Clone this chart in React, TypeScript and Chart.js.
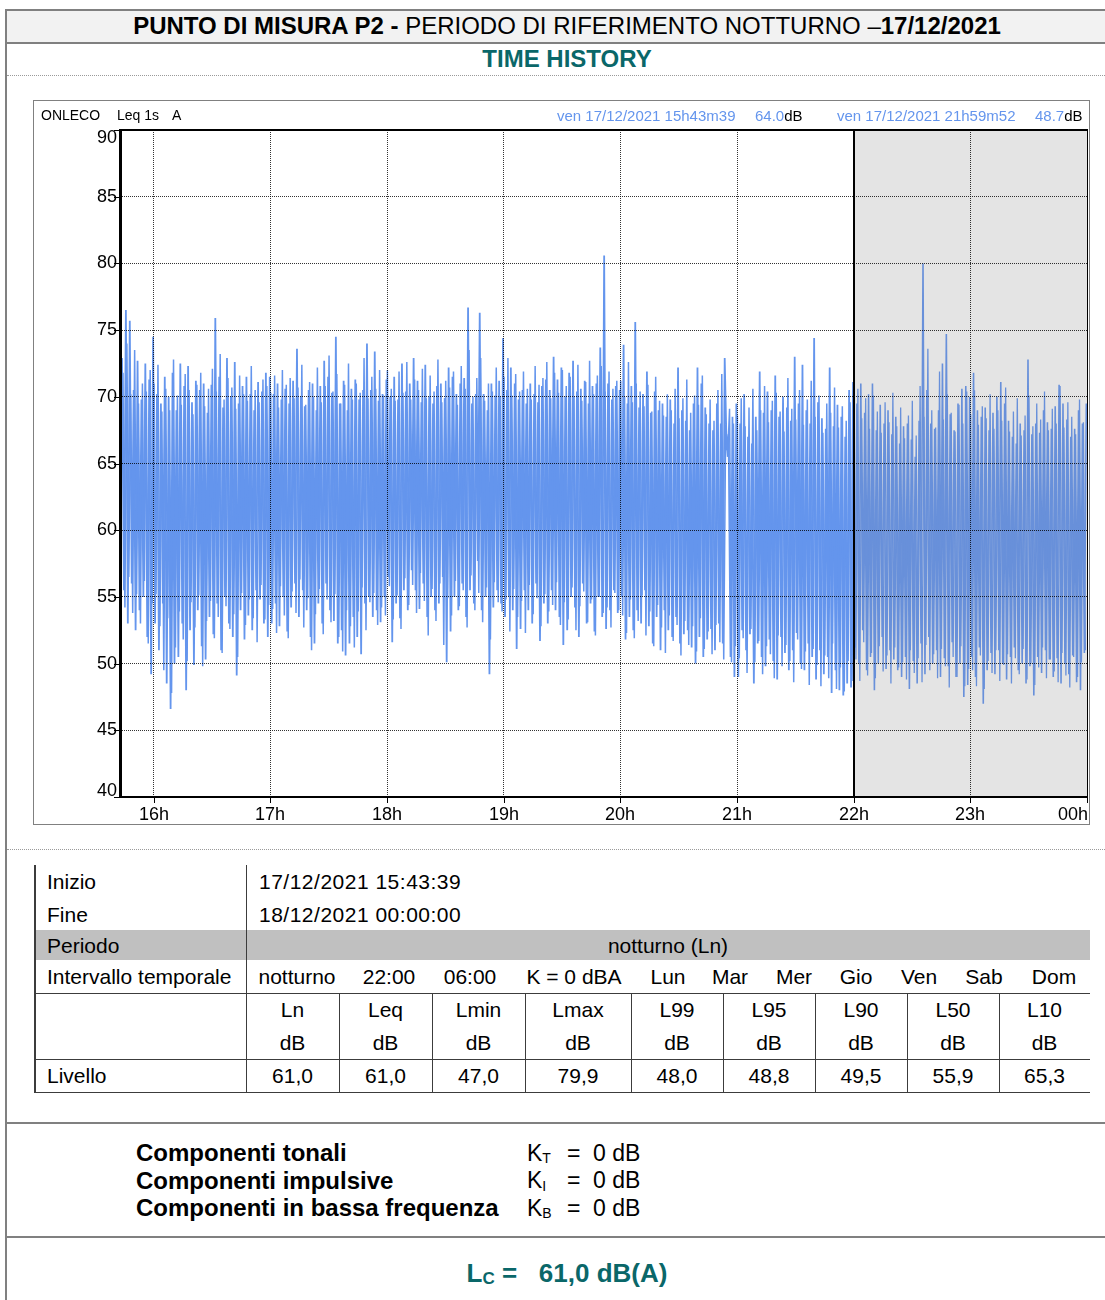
import React, { useEffect, useRef } from "react";
import { Chart, registerables } from "chart.js";

Chart.register(...registerables);

const FONT = '"Liberation Sans", Arial, Helvetica, sans-serif';

// ---- data -------------------------------------------------------------
// Start of measurement 17/12/2021 15:43:39. Leq 1s readings, reduced to one
// value per minute alternating the peak and the trough of that minute (series A),
// plus the same reduction taken on the half minute (series B).
const START_HOUR = 15 + 43 / 60 + 39 / 3600;
const STEP_HOURS = 1 / 60;
const HALF_STEP_HOURS = 0.5 / 60;
const NIGHT_START = 22;
const AXIS_END = 24;

const h15 = [72.9, 55.5, 76.5, 53.0, 75.7, 56.0, 70.5, 52.5, 72.7, 54.0, 69.8, 55.0, 72.5, 52.0, 71.3, 49.2];
const h16 = [74.5, 53.0, 70.2, 51.0, 69.5, 54.5, 71.5, 48.5, 70.0, 46.6, 71.8, 50.0, 69.0, 50.5, 72.5, 53.0, 70.8, 48.0, 72.3, 52.5, 69.6, 49.9, 71.2, 54.0, 70.5, 51.3, 71.0, 50.3, 68.8, 53.5, 70.9, 52.2, 75.9, 54.5, 71.5, 51.0, 69.2, 55.0, 72.9, 53.0, 70.0, 52.0, 72.6, 49.1, 69.5, 54.0, 70.8, 51.8, 71.5, 53.6, 70.2, 52.5, 69.0, 55.5, 71.1, 54.8, 70.4, 53.0, 71.8, 52.0];
const h17 = [71.5, 53.0, 70.2, 54.5, 71.0, 52.8, 69.8, 55.0, 70.6, 52.4, 69.5, 54.2, 71.2, 56.0, 73.6, 53.5, 70.0, 55.5, 69.3, 54.0, 70.5, 52.0, 71.0, 51.5, 69.0, 54.5, 70.8, 53.0, 72.7, 56.0, 71.5, 54.0, 70.3, 53.2, 74.5, 51.5, 69.5, 52.5, 71.2, 50.6, 69.0, 51.5, 70.6, 53.5, 71.3, 52.0, 69.8, 50.7, 70.5, 54.5, 74.0, 55.0, 70.5, 53.5, 73.4, 54.0, 69.7, 53.1, 70.2, 55.0];
const h18 = [71.3, 56.5, 70.0, 51.6, 71.5, 54.5, 69.8, 53.4, 72.5, 55.5, 70.4, 54.0, 71.0, 57.0, 72.9, 55.5, 71.2, 54.1, 69.6, 56.0, 72.4, 53.5, 70.0, 55.0, 69.5, 54.0, 70.8, 54.5, 71.0, 56.5, 69.9, 50.1, 72.2, 52.4, 71.5, 55.0, 70.2, 54.0, 71.0, 56.0, 71.4, 53.5, 76.7, 55.5, 69.5, 54.5, 70.2, 57.7, 76.3, 54.0, 70.2, 55.0, 69.0, 49.2, 71.0, 54.2, 70.1, 55.5, 71.2, 54.5];
const h19 = [74.4, 53.5, 70.5, 55.0, 72.2, 54.0, 71.0, 51.1, 69.8, 52.6, 70.5, 55.5, 69.5, 54.0, 71.0, 53.0, 70.2, 56.0, 69.6, 51.7, 70.8, 54.5, 71.3, 53.0, 70.5, 55.5, 73.0, 54.0, 71.3, 53.5, 72.2, 51.4, 70.0, 52.5, 71.8, 55.0, 72.7, 54.2, 70.4, 52.0, 70.6, 56.0, 71.2, 53.0, 69.5, 54.5, 70.8, 52.4, 71.0, 55.0, 73.7, 53.5, 80.6, 52.6, 71.0, 54.0, 69.8, 55.5, 70.8, 53.8];
const h20 = [70.5, 55.0, 73.9, 51.8, 69.5, 53.5, 70.8, 52.5, 75.6, 54.0, 69.2, 53.0, 70.2, 55.5, 71.9, 52.8, 68.8, 51.5, 70.4, 53.5, 69.0, 51.0, 69.5, 54.0, 68.5, 52.5, 69.8, 52.0, 68.0, 53.5, 72.2, 51.5, 69.0, 52.2, 68.2, 52.5, 67.5, 51.2, 69.5, 50.0, 72.2, 52.0, 71.0, 50.5, 69.2, 51.8, 68.0, 52.6, 67.5, 51.0, 69.5, 53.0, 68.0, 51.5, 72.9, 66.0, 67.2, 50.5, 68.5, 49.0];
const h21 = [69.5, 49.0, 68.0, 52.5, 70.2, 51.0, 67.0, 52.2, 66.5, 48.5, 68.5, 51.5, 71.9, 50.5, 68.8, 49.8, 70.4, 51.8, 69.0, 50.2, 71.6, 48.8, 68.5, 52.0, 70.0, 50.8, 69.2, 49.5, 68.2, 51.0, 73.0, 52.3, 69.5, 50.0, 72.4, 49.5, 69.0, 51.5, 68.0, 50.5, 74.4, 48.8, 69.6, 51.0, 68.4, 49.2, 67.6, 50.5, 72.2, 47.8, 67.8, 49.5, 69.4, 48.0, 68.5, 47.6, 67.0, 48.5, 70.5, 48.2];
const h22 = [71.1, 51.2, 69.5, 50.0, 71.0, 52.5, 68.8, 49.5, 70.2, 50.5, 71.0, 48.0, 67.5, 50.0, 69.4, 52.0, 68.0, 49.6, 69.0, 51.0, 67.2, 50.3, 68.5, 49.5, 66.5, 49.0, 67.8, 50.5, 68.0, 48.1, 66.8, 50.2, 65.5, 48.5, 68.2, 51.5, 80.0, 49.2, 70.5, 52.0, 68.0, 50.0, 67.6, 51.0, 69.0, 49.0, 72.5, 50.4, 74.7, 49.8, 68.7, 51.6, 67.5, 49.0, 69.5, 50.0, 70.6, 47.5, 70.8, 48.4];
const h23 = [70.0, 50.5, 71.8, 49.0, 69.0, 51.2, 68.5, 47.0, 69.2, 49.5, 67.5, 50.8, 68.8, 49.2, 70.0, 51.0, 71.1, 50.0, 69.5, 48.8, 68.2, 50.5, 67.0, 51.2, 66.5, 49.5, 68.0, 50.0, 67.5, 48.5, 72.8, 49.8, 67.2, 47.6, 68.0, 50.5, 67.3, 49.3, 69.0, 51.0, 68.1, 50.3, 67.6, 49.0, 69.3, 50.4, 70.9, 48.5, 69.5, 50.0, 68.3, 49.2, 67.0, 50.6, 67.6, 48.6, 69.0, 48.0, 68.0, 50.8, 69.5];

const b15 = [71.8, 54.2, 74.0, 56.5, 70.2, 53.8, 73.5, 55.2, 69.5, 53.0, 71.0, 56.2, 70.4, 51.5, 72.0, 54.5];
const b16 = [71.0, 55.2, 72.4, 52.8, 68.9, 49.5, 70.6, 53.4, 69.0, 47.8, 72.8, 51.2, 70.1, 53.9, 69.4, 51.8, 71.7, 50.2, 70.5, 54.6, 68.7, 52.7, 70.9, 55.1, 71.8, 49.8, 69.3, 53.2, 70.6, 54.7, 72.1, 51.9, 70.4, 53.5, 73.2, 50.8, 69.8, 54.3, 71.4, 52.6, 70.7, 53.7, 69.1, 50.5, 71.6, 55.3, 70.2, 52.9, 69.7, 54.8, 72.3, 53.4, 70.5, 51.6, 69.6, 55.9, 71.3, 53.3, 70.8, 54.4];
const b17 = [70.3, 54.1, 71.6, 52.3, 69.2, 55.8, 72.0, 53.6, 70.9, 51.9, 71.4, 55.4, 69.9, 53.8, 70.7, 56.3, 72.4, 52.7, 69.4, 54.9, 71.1, 51.0, 70.0, 53.7, 72.2, 55.6, 69.6, 52.2, 70.8, 54.8, 73.1, 53.1, 70.4, 55.2, 71.7, 52.0, 69.5, 50.9, 70.9, 54.0, 72.5, 52.8, 69.8, 51.2, 71.0, 53.9, 70.3, 55.7, 72.9, 52.5, 69.9, 54.6, 71.5, 55.3, 70.6, 52.9, 72.0, 54.2, 70.1, 53.6];
const b18 = [72.0, 55.8, 70.6, 53.3, 69.7, 55.1, 71.9, 52.6, 70.3, 56.4, 72.6, 54.4, 69.8, 55.9, 71.3, 53.8, 70.5, 56.8, 72.1, 54.7, 69.9, 52.1, 71.6, 55.6, 70.4, 53.2, 72.8, 56.0, 69.6, 51.4, 71.2, 54.9, 70.7, 53.6, 71.9, 56.2, 69.4, 54.3, 72.3, 55.5, 70.6, 52.7, 73.5, 56.6, 70.0, 54.0, 71.4, 55.3, 72.9, 53.1, 69.7, 55.7, 71.0, 51.8, 70.4, 56.1, 72.2, 54.6, 70.0, 53.9];
const b19 = [71.5, 54.8, 72.9, 52.4, 70.1, 55.6, 71.7, 53.5, 70.4, 54.7, 71.9, 52.3, 70.6, 55.9, 69.8, 53.7, 72.3, 54.9, 70.9, 52.8, 71.4, 55.2, 72.6, 53.9, 69.9, 54.4, 71.8, 56.1, 70.3, 52.9, 72.0, 54.6, 70.8, 53.3, 71.5, 55.7, 70.0, 52.5, 72.4, 54.3, 69.7, 55.4, 71.1, 53.1, 72.7, 54.8, 70.2, 52.1, 71.6, 55.0, 72.3, 53.8, 70.4, 54.2, 71.9, 52.7, 70.6, 55.3, 71.2, 54.0];
const b20 = [71.2, 53.6, 70.0, 52.3, 72.6, 54.8, 69.6, 51.9, 71.0, 53.2, 70.4, 55.1, 69.3, 52.1, 70.9, 53.9, 68.9, 51.3, 71.5, 54.4, 69.7, 52.7, 68.6, 50.8, 70.2, 53.6, 69.0, 51.7, 70.6, 52.9, 68.4, 50.6, 69.9, 53.2, 71.3, 51.4, 68.8, 52.8, 70.1, 50.9, 69.4, 53.4, 71.6, 51.1, 68.7, 52.4, 69.8, 50.7, 68.2, 52.9, 70.5, 51.6, 71.7, 50.3, 67.9, 65.5, 69.1, 50.1, 68.0, 51.3];
const b21 = [68.6, 50.4, 69.9, 51.9, 67.8, 49.3, 69.2, 52.6, 70.6, 50.1, 67.5, 51.7, 69.0, 49.2, 70.8, 51.3, 68.1, 50.7, 69.7, 48.9, 70.3, 52.1, 68.9, 49.8, 67.4, 51.4, 71.4, 50.2, 69.1, 48.6, 68.3, 51.8, 70.5, 49.6, 67.9, 50.9, 69.8, 48.4, 71.2, 51.1, 68.5, 49.9, 70.1, 48.3, 67.3, 50.6, 69.5, 48.9, 68.8, 51.5, 70.7, 48.1, 67.7, 49.7, 69.3, 47.9, 68.2, 50.2, 69.6, 48.7];
const b22 = [69.8, 50.3, 70.6, 48.7, 68.4, 51.6, 69.9, 49.1, 67.6, 50.8, 70.1, 48.9, 68.9, 51.3, 67.3, 49.4, 69.6, 50.6, 68.1, 48.5, 70.3, 51.2, 67.8, 49.7, 69.2, 50.1, 66.9, 48.8, 68.6, 51.0, 69.7, 49.3, 67.1, 50.4, 70.8, 48.6, 68.5, 51.4, 73.6, 49.5, 69.0, 50.7, 67.7, 48.9, 71.9, 51.1, 68.3, 49.8, 70.2, 48.2, 68.8, 50.5, 67.4, 49.0, 69.4, 51.3, 68.0, 48.3, 70.4, 49.6];
const b23 = [68.7, 49.5, 70.5, 48.3, 67.9, 50.6, 69.3, 48.1, 68.4, 50.2, 70.2, 49.3, 67.6, 51.0, 69.0, 48.7, 68.2, 49.9, 70.7, 50.7, 67.4, 48.5, 68.9, 50.4, 69.9, 49.2, 67.1, 51.1, 68.6, 48.8, 70.1, 50.0, 67.8, 48.4, 69.5, 49.7, 68.3, 51.2, 70.4, 48.9, 67.5, 50.3, 69.1, 49.4, 68.0, 48.6, 70.8, 50.8, 67.7, 49.1, 69.6, 48.2, 68.5, 50.5, 67.2, 49.0, 69.8, 50.1, 68.1, 51.0];

const levelsA = [...h15, ...h16, ...h17, ...h18, ...h19, ...h20, ...h21, ...h22, ...h23];
const levelsB = [...b15, ...b16, ...b17, ...b18, ...b19, ...b20, ...b21, ...b22, ...b23];

const hourTicks = [16, 17, 18, 19, 20, 21, 22, 23, 24];
const hourLabels = ["16h", "17h", "18h", "19h", "20h", "21h", "22h", "23h", "00h"];
const levelTicks = [40, 45, 50, 55, 60, 65, 70, 75, 80, 85, 90];

const instrumentLabel = ["ONLECO", "Leq 1s", "A"];
const cursorA = { time: "ven 17/12/2021 15h43m39", level: "64.0", unit: "dB" };
const cursorB = { time: "ven 17/12/2021 21h59m52", level: "48.7", unit: "dB" };

const infoLabels = ["Inizio", "Fine", "Periodo", "Intervallo temporale", "Livello"];
const infoValues = ["17/12/2021 15:43:39", "18/12/2021 00:00:00"];
const periodName = "notturno (Ln)";
const intervalItems = ["notturno", "22:00", "06:00", "K = 0 dBA", "Lun", "Mar", "Mer", "Gio", "Ven", "Sab", "Dom"];
const metricNames = ["Ln", "Leq", "Lmin", "Lmax", "L99", "L95", "L90", "L50", "L10"];
const metricUnit = "dB";
const metricValues = ["61,0", "61,0", "47,0", "79,9", "48,0", "48,8", "49,5", "55,9", "65,3"];

const componentNames = ["Componenti tonali", "Componenti impulsive", "Componenti in bassa frequenza"];
const componentSymbols = ["T", "I", "B"];
const componentValues = ["0 dB", "0 dB", "0 dB"];
const finalLevel = "61,0 dB(A)";

// ---- styles / layout --------------------------------------------------
const DAY_LINE = "#6495ed";
const NIGHT_LINE = "#6890da";
const SHADE = "#e4e4e4";
const TEAL = "#0a6769";
const RULE = "#808080";

const ROW_TOPS = [865, 898, 930, 960, 993, 1026, 1059, 1092];
const COL_X = [246, 339, 432, 525, 631, 723, 815, 907, 999, 1090];
const INTERVAL_CX = [297, 389, 470, 574, 668, 730, 794, 856, 919, 984, 1054];

const framePlugin = {
  id: "frame",
  beforeDatasetsDraw(chart: any) {
    const { ctx, chartArea: a, scales } = chart;
    const x0 = scales.x.getPixelForValue(NIGHT_START);
    const x1 = scales.x.getPixelForValue(AXIS_END);
    ctx.save();
    ctx.fillStyle = SHADE;
    ctx.fillRect(x0, a.top, x1 - x0, a.bottom - a.top);
    ctx.restore();
  },
  afterDraw(chart: any) {
    const { ctx, chartArea: a, scales, width, height } = chart;
    const xs = scales.x;
    const ys = scales.y;
    ctx.save();
    ctx.strokeStyle = RULE;
    ctx.lineWidth = 1;
    ctx.strokeRect(0.5, 0.5, width - 1, height - 1);

    ctx.fillStyle = "#000";
    ctx.fillRect(a.left - 3, a.top - 1, 3, a.bottom - a.top + 2);
    ctx.fillRect(a.left - 3, a.bottom - 1, a.right - a.left + 4, 2);
    ctx.fillRect(a.left, a.top - 1, a.right - a.left + 1, 2);
    ctx.fillRect(a.right, a.top - 1, 1, a.bottom - a.top + 2);
    const xn = Math.round(xs.getPixelForValue(NIGHT_START));
    ctx.fillRect(xn - 1, a.top, 2, a.bottom - a.top);

    ctx.font = `18px ${FONT}`;
    ctx.textBaseline = "middle";
    ctx.textAlign = "right";
    levelTicks.forEach((v) => {
      const py = Math.round(ys.getPixelForValue(v));
      ctx.fillRect(a.left - 8, py, 5, 1);
      const ty = Math.min(Math.max(py, a.top + 8), a.bottom - 6);
      ctx.fillText(String(v), a.left - 5, ty);
    });
    hourTicks.forEach((v, i) => {
      const px = Math.round(xs.getPixelForValue(v));
      ctx.fillRect(px, a.bottom + 1, 1, 5);
      const w = ctx.measureText(hourLabels[i]).width;
      if (px + w / 2 > a.right + 2) {
        ctx.textAlign = "right";
        ctx.fillText(hourLabels[i], a.right + 1, a.bottom + 18);
      } else {
        ctx.textAlign = "center";
        ctx.fillText(hourLabels[i], px, a.bottom + 18);
      }
    });
    ctx.restore();
  },
};

function TimeHistory() {
  const ref = useRef<HTMLCanvasElement>(null);
  useEffect(() => {
    const pointsA = levelsA.map((v, i) => ({ x: START_HOUR + i * STEP_HOURS, y: v }));
    const pointsB = levelsB.map((v, i) => ({ x: START_HOUR + HALF_STEP_HOURS + i * STEP_HOURS, y: v }));
    const isNight = (c: any) => c.p0.parsed.x >= NIGHT_START;
    const trace = (data: any[], dayW: number, nightW: number) => ({
      data,
      borderColor: DAY_LINE,
      borderWidth: dayW,
      borderJoinStyle: "bevel",
      pointRadius: 0,
      tension: 0,
      fill: false,
      segment: {
        borderColor: (c: any) => (isNight(c) ? NIGHT_LINE : DAY_LINE),
        borderWidth: (c: any) => (isNight(c) ? nightW : dayW),
      },
    });
    const gridCommon = { color: "rgba(0,0,0,0.8)", lineWidth: 1, z: 1, drawTicks: false };
    const chart = new Chart(ref.current as HTMLCanvasElement, {
      type: "line",
      data: {
        datasets: [trace(pointsA, 1.8, 1.6), trace(pointsB, 1.5, 1.3)],
      },
      options: {
        animation: false,
        responsive: false,
        maintainAspectRatio: false,
        events: [],
        layout: { padding: { top: 30, right: 3, left: 0, bottom: 0 } },
        plugins: { legend: { display: false }, tooltip: { enabled: false } },
        scales: {
          x: {
            type: "linear",
            min: START_HOUR,
            max: AXIS_END,
            afterBuildTicks: (s: any) => {
              s.ticks = hourTicks.map((v) => ({ value: v }));
            },
            afterFit: (s: any) => {
              s.height = 28;
            },
            ticks: { display: false },
            grid: gridCommon,
            border: { display: false, dash: [1, 1] },
          },
          y: {
            type: "linear",
            min: 40,
            max: 90,
            afterBuildTicks: (s: any) => {
              s.ticks = levelTicks.map((v) => ({ value: v }));
            },
            afterFit: (s: any) => {
              s.width = 89;
            },
            ticks: { display: false },
            grid: gridCommon,
            border: { display: false, dash: [1, 1] },
          },
        },
      } as any,
      plugins: [framePlugin],
    });
    return () => chart.destroy();
  }, []);
  return (
    <canvas
      ref={ref}
      width={1057}
      height={725}
      style={{ position: "absolute", left: 33, top: 100, width: 1057, height: 725 }}
    />
  );
}

type TxtProps = {
  x: number;
  cy: number;
  size?: number;
  weight?: number;
  color?: string;
  align?: "left" | "center";
  children: React.ReactNode;
};

function Txt({ x, cy, size = 21, weight = 400, color = "#000", align = "left", children }: TxtProps) {
  const base: React.CSSProperties = {
    position: "absolute",
    top: cy - size,
    height: size * 2,
    display: "flex",
    alignItems: "center",
    fontSize: size,
    fontWeight: weight,
    color,
    whiteSpace: "pre",
    lineHeight: 1,
  };
  if (align === "center") {
    return <div style={{ ...base, left: x - 400, width: 800, justifyContent: "center" }}>{children}</div>;
  }
  return <div style={{ ...base, left: x }}>{children}</div>;
}

function Rule({ x, y, w, h, color = RULE, dotted = false }: { x: number; y: number; w: number; h: number; color?: string; dotted?: boolean }) {
  if (dotted) {
    return <div style={{ position: "absolute", left: x, top: y, width: w, height: 0, borderTop: `1px dotted ${color}` }} />;
  }
  return <div style={{ position: "absolute", left: x, top: y, width: w, height: h, background: color }} />;
}

export default function App() {
  const rowMid = (r: number) => (ROW_TOPS[r] + ROW_TOPS[r + 1]) / 2;
  const LINE = "#3c3c3c";
  return (
    <div
      style={{
        position: "absolute",
        left: 0,
        top: 0,
        width: 1105,
        height: 1300,
        overflow: "hidden",
        background: "#fff",
        fontFamily: FONT,
        color: "#000",
      }}
    >
      {/* page frame */}
      <div style={{ position: "absolute", left: 5, top: 9, width: 1100, height: 31, background: "#f2f2f2", borderTop: `2px solid ${RULE}`, borderBottom: `2px solid ${RULE}` }} />
      <Rule x={5} y={9} w={2} h={1291} />
      <Txt x={567} cy={26} size={24} align="center">
        <b>PUNTO DI MISURA P2 - </b>
        <span>PERIODO DI RIFERIMENTO NOTTURNO –</span>
        <b>17/12/2021</b>
      </Txt>
      <Txt x={567} cy={59} size={24} weight={700} color={TEAL} align="center">
        TIME HISTORY
      </Txt>
      <Rule x={7} y={75} w={1098} h={1} dotted color="#9a9a9a" />

      {/* chart */}
      <TimeHistory />
      <Txt x={41} cy={115} size={14}>{instrumentLabel[0]}</Txt>
      <Txt x={117} cy={115} size={14}>{instrumentLabel[1]}</Txt>
      <Txt x={172} cy={115} size={14}>{instrumentLabel[2]}</Txt>
      <Txt x={557} cy={115} size={15} color={DAY_LINE}>{cursorA.time}</Txt>
      <Txt x={755} cy={115} size={15}>
        <span style={{ color: DAY_LINE }}>{cursorA.level}</span>
        <span>{cursorA.unit}</span>
      </Txt>
      <Txt x={837} cy={115} size={15} color={DAY_LINE}>{cursorB.time}</Txt>
      <Txt x={1035} cy={115} size={15}>
        <span style={{ color: DAY_LINE }}>{cursorB.level}</span>
        <span>{cursorB.unit}</span>
      </Txt>

      <Rule x={7} y={849} w={1098} h={1} dotted color="#9a9a9a" />

      {/* table */}
      <div style={{ position: "absolute", left: 35, top: ROW_TOPS[2], width: 1055, height: ROW_TOPS[3] - ROW_TOPS[2], background: "#c0c0c0" }} />
      <Rule x={34} y={ROW_TOPS[0]} w={2} h={ROW_TOPS[7] - ROW_TOPS[0] + 1} color={LINE} />
      <Rule x={246} y={ROW_TOPS[0]} w={1} h={ROW_TOPS[7] - ROW_TOPS[0] + 1} color={LINE} />
      {COL_X.slice(1, -1).map((cx) => (
        <Rule key={cx} x={cx} y={ROW_TOPS[4]} w={1} h={ROW_TOPS[7] - ROW_TOPS[4] + 1} color={LINE} />
      ))}
      <Rule x={35} y={ROW_TOPS[4]} w={1055} h={1} color={LINE} />
      <Rule x={35} y={ROW_TOPS[6]} w={1055} h={1} color={LINE} />
      <Rule x={35} y={ROW_TOPS[7]} w={1055} h={1} color={LINE} />

      <Txt x={47} cy={rowMid(0)}>{infoLabels[0]}</Txt>
      <Txt x={47} cy={rowMid(1)}>{infoLabels[1]}</Txt>
      <Txt x={47} cy={rowMid(2)}>{infoLabels[2]}</Txt>
      <Txt x={47} cy={rowMid(3)}>{infoLabels[3]}</Txt>
      <Txt x={47} cy={rowMid(6)}>{infoLabels[4]}</Txt>
      <Txt x={259} cy={rowMid(0)}><span style={{ letterSpacing: 0.5 }}>{infoValues[0]}</span></Txt>
      <Txt x={259} cy={rowMid(1)}><span style={{ letterSpacing: 0.5 }}>{infoValues[1]}</span></Txt>
      <Txt x={(246 + 1090) / 2} cy={rowMid(2)} align="center">{periodName}</Txt>
      {intervalItems.map((t, i) => (
        <Txt key={t} x={INTERVAL_CX[i]} cy={rowMid(3)} align="center">{t}</Txt>
      ))}
      {metricNames.map((m, i) => {
        const cx = (COL_X[i] + COL_X[i + 1]) / 2;
        return (
          <React.Fragment key={m}>
            <Txt x={cx} cy={rowMid(4)} align="center">{m}</Txt>
            <Txt x={cx} cy={rowMid(5)} align="center">{metricUnit}</Txt>
            <Txt x={cx} cy={rowMid(6)} align="center">{metricValues[i]}</Txt>
          </React.Fragment>
        );
      })}

      <Rule x={7} y={1122} w={1098} h={2} />

      {componentNames.map((n, i) => {
        const cy = 1153 + i * 27.5;
        return (
          <React.Fragment key={n}>
            <Txt x={136} cy={cy} size={24} weight={700}>{n}</Txt>
            <Txt x={527} cy={cy} size={23}>
              <span>K</span>
              <span style={{ fontSize: 14, position: "relative", top: 5 }}>{componentSymbols[i]}</span>
            </Txt>
            <Txt x={567} cy={cy} size={23}>=</Txt>
            <Txt x={593} cy={cy} size={23}>{componentValues[i]}</Txt>
          </React.Fragment>
        );
      })}

      <Rule x={7} y={1236} w={1098} h={2} />

      <Txt x={567} cy={1273} size={26} weight={700} color={TEAL} align="center">
        <span>L</span>
        <span style={{ fontSize: 17, position: "relative", top: 5 }}>C</span>
        <span>{" =   "}</span>
        <span>{finalLevel}</span>
      </Txt>
    </div>
  );
}
